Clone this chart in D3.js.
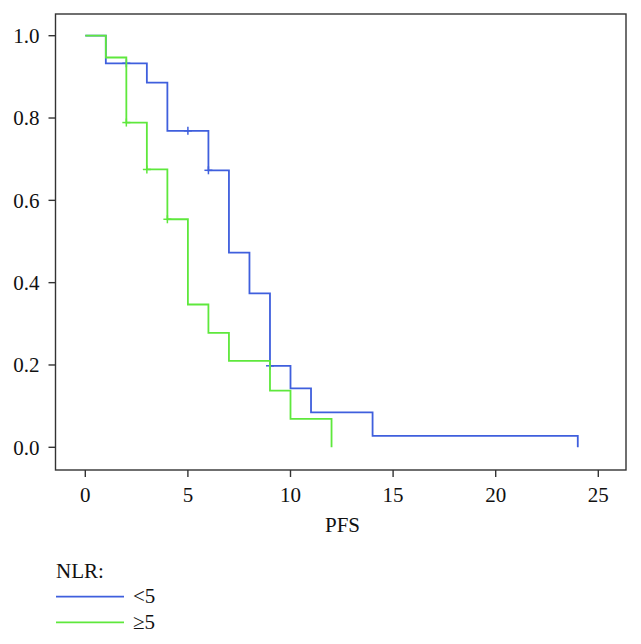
<!DOCTYPE html>
<html>
<head>
<meta charset="utf-8">
<script src="https://cdn.jsdelivr.net/npm/d3@7"></script>
<style>
  html, body { margin: 0; padding: 0; background: #fff; }
  svg { display: block; }
  text { font-family: "Liberation Serif", "Times New Roman", serif; fill: #111; }
</style>
</head>
<body>
<svg id="chart" width="641" height="644"></svg>
<script>
// ---- data ----
const groupLabels = ["<5", "\u22655"];
const legendTitle = "NLR:";
const xAxisLabel = "PFS";
const xTicks = [0, 5, 10, 15, 20, 25];
const yTicks = [0.0, 0.2, 0.4, 0.6, 0.8, 1.0];

const lowTimes = [0, 1, 3, 4, 6, 7, 8, 9, 10, 11, 14, 24];
const lowSurv  = [1.0, 0.933, 0.886, 0.769, 0.673, 0.473, 0.374, 0.198, 0.143, 0.085, 0.028, 0.0];
const lowCensorTimes = [2, 5, 6, 9];
const lowCensorSurv  = [0.933, 0.769, 0.673, 0.198];

const highTimes = [0, 1, 2, 3, 4, 5, 6, 7, 9, 10, 12];
const highSurv  = [1.0, 0.947, 0.789, 0.675, 0.554, 0.347, 0.278, 0.210, 0.1375, 0.069, 0.0];
const highCensorTimes = [2, 3, 4];
const highCensorSurv  = [0.789, 0.675, 0.554];

// ---- layout ----
const colors = ["#3f5fdd", "#5ee83c"];
const frame = { left: 55.5, right: 626, top: 14, bottom: 470 };
const fs = 21;
const svg = d3.select("#chart");

const x = d3.scaleLinear().domain([0, 25]).range([85.3, 598.3]);
const y = d3.scaleLinear().domain([0, 1]).range([447.3, 35.7]);

// frame box
svg.append("rect")
  .attr("x", frame.left).attr("y", frame.top)
  .attr("width", frame.right - frame.left).attr("height", frame.bottom - frame.top)
  .attr("fill", "none").attr("stroke", "#333").attr("stroke-width", 1.4);

// x axis ticks and labels
const xg = svg.append("g");
xg.selectAll("line").data(xTicks).join("line")
  .attr("x1", d => x(d)).attr("x2", d => x(d))
  .attr("y1", frame.bottom).attr("y2", frame.bottom + 7)
  .attr("stroke", "#333").attr("stroke-width", 1.4);
xg.selectAll("text").data(xTicks).join("text")
  .attr("x", d => x(d)).attr("y", 501.8)
  .attr("text-anchor", "middle").attr("font-size", fs)
  .text(d => d3.format("d")(d));

// y axis ticks and labels
const yg = svg.append("g");
yg.selectAll("line").data(yTicks).join("line")
  .attr("x1", frame.left - 7).attr("x2", frame.left)
  .attr("y1", d => y(d)).attr("y2", d => y(d))
  .attr("stroke", "#333").attr("stroke-width", 1.4);
yg.selectAll("text").data(yTicks).join("text")
  .attr("x", 39.5).attr("y", d => y(d) + 7.3)
  .attr("text-anchor", "end").attr("font-size", fs)
  .text(d => d3.format(".1f")(d));

// axis title
svg.append("text")
  .attr("x", 342.5).attr("y", 531.5)
  .attr("text-anchor", "middle").attr("font-size", fs)
  .text(xAxisLabel);

// curves
const line = d3.line().x(d => x(d[0])).y(d => y(d[1])).curve(d3.curveStepAfter);
const series = [
  { times: lowTimes, surv: lowSurv, ct: lowCensorTimes, cs: lowCensorSurv, color: colors[0] },
  { times: highTimes, surv: highSurv, ct: highCensorTimes, cs: highCensorSurv, color: colors[1] }
];
series.forEach(s => {
  const pts = s.times.map((t, i) => [t, s.surv[i]]);
  svg.append("path").attr("d", line(pts))
    .attr("fill", "none").attr("stroke", s.color).attr("stroke-width", 1.8);
  const cens = s.ct.map((t, i) => [t, s.cs[i]]);
  const g = svg.append("g");
  g.selectAll("line.v").data(cens).join("line").attr("class", "v")
    .attr("x1", d => x(d[0])).attr("x2", d => x(d[0]))
    .attr("y1", d => y(d[1]) - 4).attr("y2", d => y(d[1]) + 4)
    .attr("stroke", s.color).attr("stroke-width", 1.5);
  g.selectAll("line.h").data(cens).join("line").attr("class", "h")
    .attr("x1", d => x(d[0]) - 4).attr("x2", d => x(d[0]) + 4)
    .attr("y1", d => y(d[1])).attr("y2", d => y(d[1]))
    .attr("stroke", s.color).attr("stroke-width", 1.5);
});

// legend
svg.append("text").attr("x", 56).attr("y", 577.5).attr("font-size", fs).text(legendTitle);
const legY = [596.7, 622.3];
groupLabels.forEach((lab, i) => {
  svg.append("line")
    .attr("x1", 56).attr("x2", 124).attr("y1", legY[i]).attr("y2", legY[i])
    .attr("stroke", colors[i]).attr("stroke-width", 1.8);
  svg.append("text").attr("x", 133).attr("y", legY[i] + 6.5)
    .attr("font-size", fs).text(lab);
});
</script>
</body>
</html>
